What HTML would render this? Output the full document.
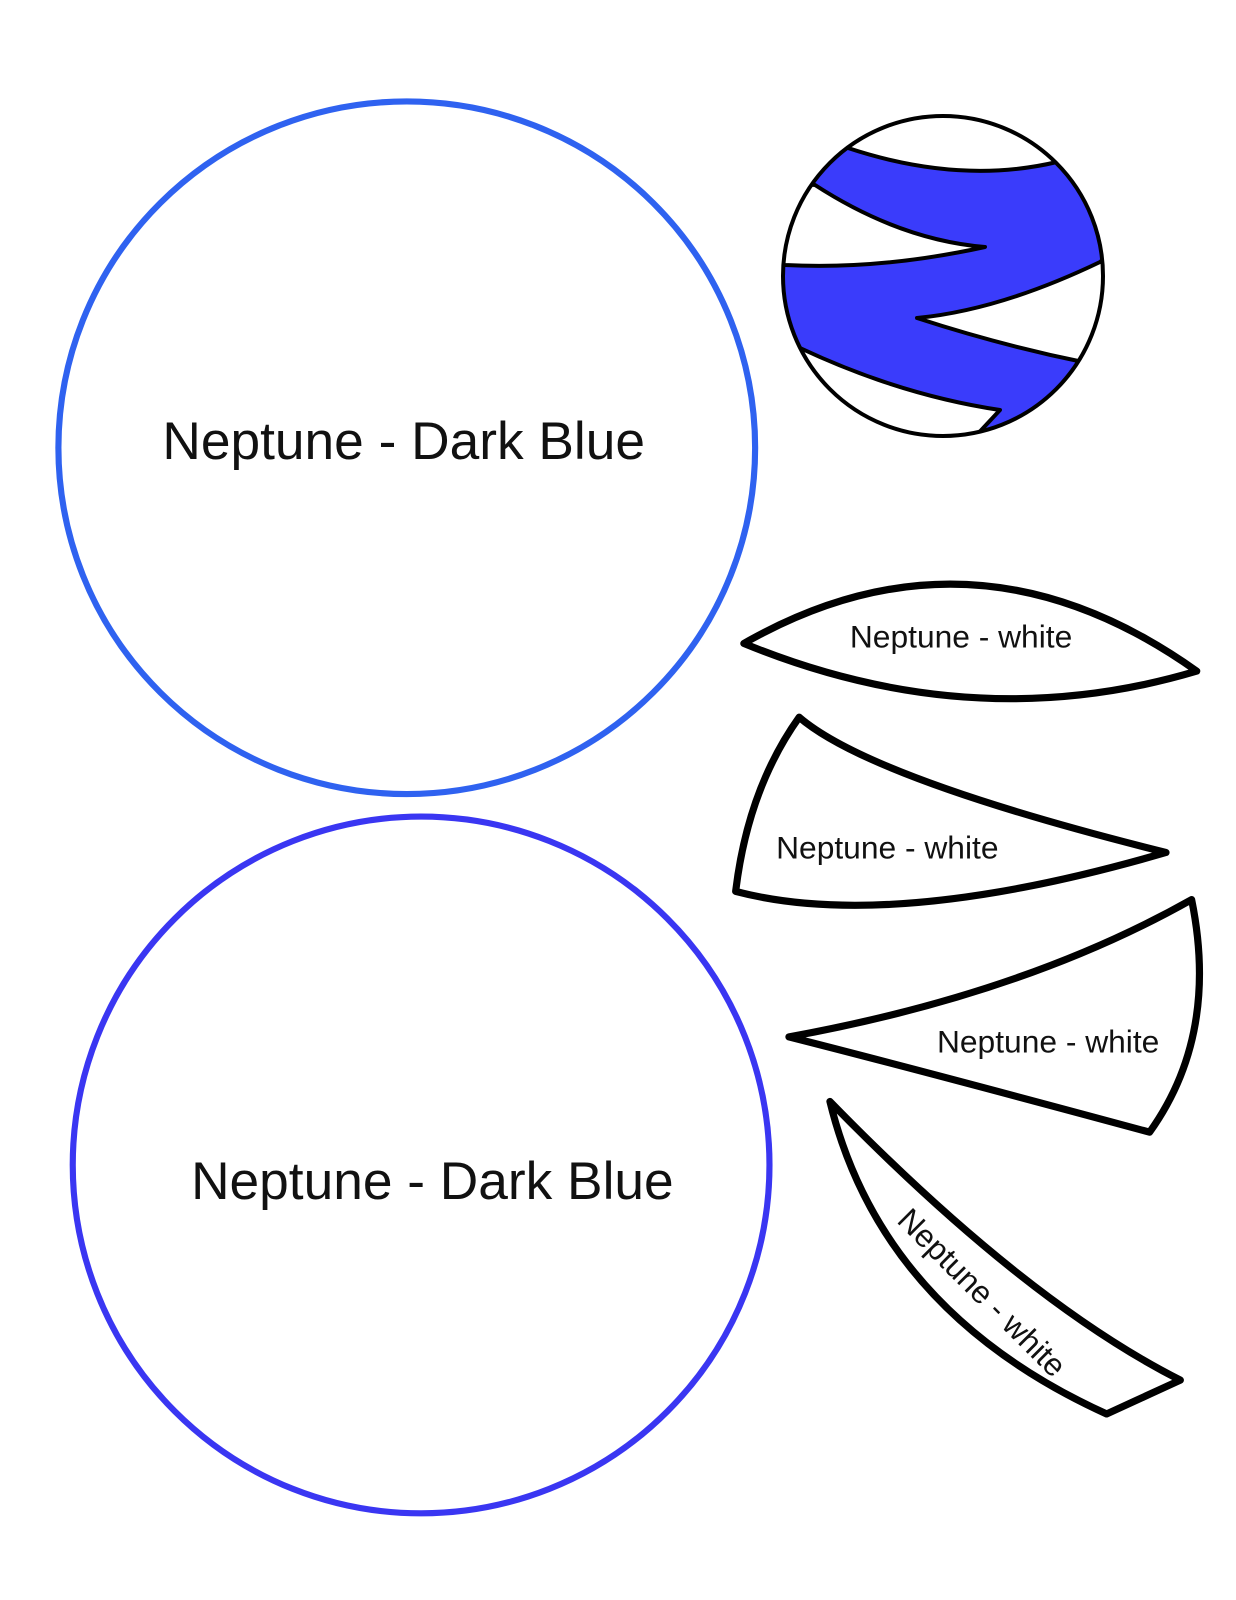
<!DOCTYPE html>
<html><head><style>
html,body{margin:0;padding:0;background:#fff;}
svg{display:block}
text{font-family:"Liberation Sans",sans-serif;fill:#111;}
</style></head><body>
<svg width="1236" height="1600" viewBox="0 0 1236 1600">
<g transform="scale(1.0246)">
<ellipse cx="397" cy="437" rx="340" ry="338" fill="none" stroke="#2f62f0" stroke-width="6"/>
<ellipse cx="411" cy="1137" rx="340" ry="340" fill="none" stroke="#3a36f2" stroke-width="6"/>
<text x="394" y="448" font-size="52" text-anchor="middle">Neptune - Dark Blue</text>
<text x="422" y="1170" font-size="52" text-anchor="middle">Neptune - Dark Blue</text>
<g fill="#fff" stroke="#000" stroke-width="7" stroke-linejoin="round" stroke-linecap="round">
<path d="M726 628 Q950 500 1168 655 Q950 720 726 628 Z"/>
<path d="M780 700 Q850 760 1138 832 Q870 910 718 870 Q730 770 780 700 Z"/>
<path d="M770 1012 Q1000 970 1163 878 Q1190 1010 1122 1105 Q900 1045 770 1012 Z"/>
<path d="M810 1075 Q1000 1270 1152 1347 L1080 1380 Q860 1280 810 1075 Z"/>
</g>
<text x="938" y="632" font-size="31" text-anchor="middle">Neptune - white</text>
<text x="866" y="838" font-size="31" text-anchor="middle">Neptune - white</text>
<text x="1023" y="1027" font-size="31" text-anchor="middle">Neptune - white</text>
<text x="958" y="1272" font-size="31" text-anchor="middle" transform="rotate(45 958 1262)">Neptune - white</text>
</g>
<defs><clipPath id="c"><circle cx="943" cy="276" r="161"/></clipPath></defs>
<g clip-path="url(#c)" stroke="#000" stroke-width="4" stroke-linejoin="round">
<circle cx="943" cy="276" r="161" fill="#3a3cfb" stroke="none"/>
<path d="M760 100 L1120 100 L1120 150 L1057 162 Q960 185 848 148 L820 140 Z" fill="#fff"/>
<path d="M760 180 L815 185 Q900 240 985 247 Q880 270 785 265 L760 262 Z" fill="#fff"/>
<path d="M1120 245 L1100 262 Q1000 310 917 318 Q1000 345 1083 362 L1120 368 Z" fill="#fff"/>
<path d="M760 340 L800 348 Q900 395 1000 410 L972 440 L760 450 Z" fill="#fff"/>
</g>
<circle cx="943" cy="276" r="160" fill="none" stroke="#000" stroke-width="4"/>
</svg>
</body></html>
